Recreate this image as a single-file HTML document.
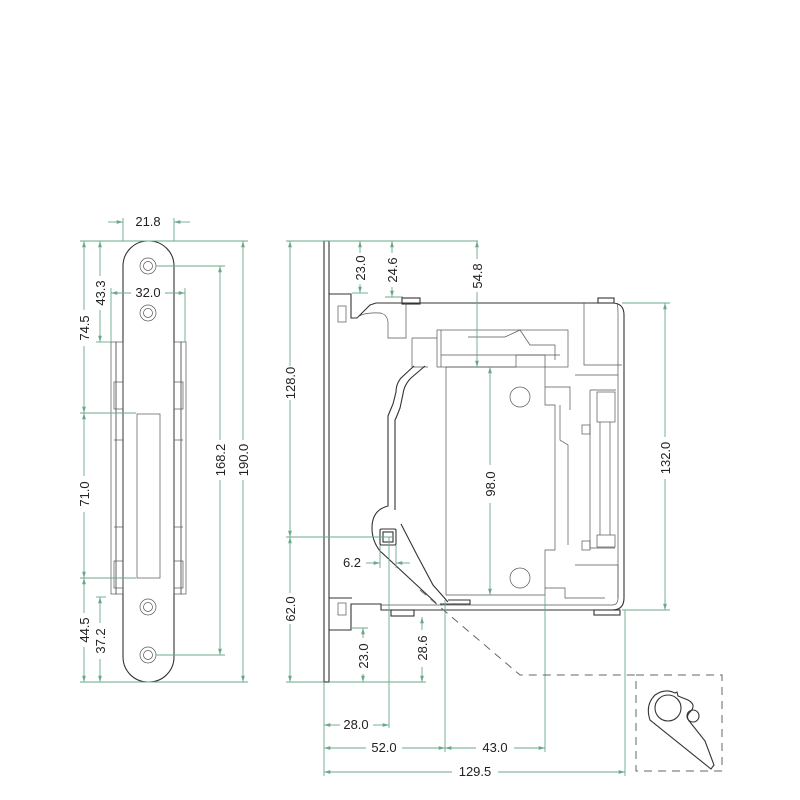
<!DOCTYPE html>
<html><head><meta charset="utf-8"><style>
html,body{margin:0;padding:0;background:#fff;}
svg{display:block;}
text{font-family:"Liberation Sans",sans-serif;font-size:13px;fill:#222;}
.g{stroke:#6aa88a;stroke-width:0.9;fill:none;}
.k{stroke:#333;stroke-width:1.1;fill:none;}
.t{stroke:#555;stroke-width:0.7;fill:none;}
.d{stroke:#666;stroke-width:1;fill:none;stroke-dasharray:8,6;}
</style></head><body>
<svg width="800" height="800" viewBox="0 0 800 800" xmlns="http://www.w3.org/2000/svg">
<defs>
<marker id="a" viewBox="0 0 10 10" refX="10" refY="5" markerWidth="7" markerHeight="7" orient="auto-start-reverse"><path d="M0,2 L10,5 L0,8 z" fill="#6aa88a"/></marker>
</defs>

<!-- LEFT PLATE -->
<rect x="123" y="241" width="51" height="441" rx="25" class="k"/>
<g class="t">
<circle cx="148" cy="266" r="8"/><circle cx="148" cy="266" r="4.5"/>
<circle cx="148" cy="313" r="8"/><circle cx="148" cy="313" r="4.5"/>
<circle cx="148" cy="607" r="8"/><circle cx="148" cy="607" r="4.5"/>
<circle cx="148" cy="655" r="8"/><circle cx="148" cy="655" r="4.5"/>
<rect x="137" y="414" width="23" height="164"/>
<rect x="111" y="342" width="5" height="252"/><rect x="116" y="342" width="7" height="252"/>
<rect x="181" y="342" width="5" height="252"/><rect x="174" y="342" width="7" height="252"/>
<rect x="114" y="382" width="9" height="27"/><rect x="174" y="382" width="9" height="27"/>
<rect x="114" y="561" width="9" height="27"/><rect x="174" y="561" width="9" height="27"/>
<line x1="114" y1="440" x2="123" y2="440"/><line x1="174" y1="440" x2="183" y2="440"/>
<line x1="114" y1="527" x2="123" y2="527"/><line x1="174" y1="527" x2="183" y2="527"/>
</g>
<!-- left dims -->
<g class="g">
<line x1="123" y1="218" x2="123" y2="241"/><line x1="174" y1="218" x2="174" y2="241"/>
<line x1="108" y1="222" x2="123" y2="222" marker-end="url(#a)"/><line x1="190" y1="222" x2="174" y2="222" marker-end="url(#a)"/>
<line x1="80" y1="241" x2="248" y2="241"/><line x1="80" y1="682" x2="248" y2="682"/>
<line x1="243" y1="241" x2="243" y2="440" marker-start="url(#a)"/><line x1="243" y1="480" x2="243" y2="682" marker-end="url(#a)"/>
<line x1="156" y1="266" x2="225" y2="266"/><line x1="156" y1="655" x2="225" y2="655"/>
<line x1="220" y1="266" x2="220" y2="440" marker-start="url(#a)"/><line x1="220" y1="480" x2="220" y2="655" marker-end="url(#a)"/>
<line x1="84" y1="241" x2="84" y2="310" marker-start="url(#a)"/><line x1="84" y1="346" x2="84" y2="413" marker-end="url(#a)"/>
<line x1="100" y1="241" x2="100" y2="276" marker-start="url(#a)"/><line x1="100" y1="310" x2="100" y2="342" marker-end="url(#a)"/>
<line x1="96" y1="342" x2="111" y2="342"/>
<line x1="80" y1="413" x2="136" y2="413"/><line x1="80" y1="578" x2="136" y2="578"/>
<line x1="84" y1="413" x2="84" y2="476" marker-start="url(#a)"/><line x1="84" y1="512" x2="84" y2="578" marker-end="url(#a)"/>
<line x1="84" y1="578" x2="84" y2="613" marker-start="url(#a)"/><line x1="84" y1="647" x2="84" y2="682" marker-end="url(#a)"/>
<line x1="96" y1="597" x2="106" y2="597"/>
<line x1="100" y1="597" x2="100" y2="623" marker-start="url(#a)"/><line x1="100" y1="659" x2="100" y2="682" marker-end="url(#a)"/>
<line x1="111" y1="288" x2="111" y2="342"/><line x1="185" y1="288" x2="185" y2="342"/>
<line x1="111" y1="293" x2="131" y2="293" marker-start="url(#a)"/><line x1="165" y1="293" x2="185" y2="293" marker-end="url(#a)"/>
</g>
<text x="148" y="226" text-anchor="middle">21.8</text>
<text x="148" y="297" text-anchor="middle">32.0</text>
<text transform="translate(248,460) rotate(-90)" text-anchor="middle">190.0</text>
<text transform="translate(225,460) rotate(-90)" text-anchor="middle">168.2</text>
<text transform="translate(89,328) rotate(-90)" text-anchor="middle">74.5</text>
<text transform="translate(105,293) rotate(-90)" text-anchor="middle">43.3</text>
<text transform="translate(89,494) rotate(-90)" text-anchor="middle">71.0</text>
<text transform="translate(89,630) rotate(-90)" text-anchor="middle">44.5</text>
<text transform="translate(105,641) rotate(-90)" text-anchor="middle">37.2</text>

<!-- MAIN BODY -->
<rect x="324" y="241" width="5" height="441" class="k" fill="#fff"/>
<g class="k">
<path d="M329,294 H351 V318 H357 L370,305 L376,303 H612 Q624,303 624,315 V598 Q624,610 612,610 H381 V604 H351 V630 H329"/>
<path d="M329,598 H352"/>
<rect x="402" y="298" width="18" height="6"/><rect x="598" y="298" width="16" height="5"/>
<rect x="391" y="610" width="23" height="6"/><rect x="594" y="610" width="26" height="5"/>
</g>
<g class="t">
<rect x="338" y="306" width="8" height="16"/><rect x="338" y="603" width="8" height="12"/>
<path d="M357,318 Q362,312 380,313 Q387,314 388,322 V338 H406 V303"/>
<path d="M617,303 Q618,305 618,315 V598 Q618,605 612,605 H381"/>
<rect x="437" y="330" width="131" height="37"/>
<path d="M441,330 V367 M441,355 H560"/>
<path d="M468,337 H505 L520,330 L530,345 H555 V360"/>
<path d="M412,338 H437 M412,338 V367 H428"/>
<path d="M584,303 V365 H622"/>
<path d="M446,367 V595 H545 V588 H565 V598 H605 M446,367 H516 V355 H545 V387 H570 V410 M545,387 V405 H555 V550 H545 V590"/>
<path d="M560,405 V440 L568,445 V545"/>
<circle cx="520" cy="397" r="10"/><circle cx="520" cy="578" r="10"/>
<rect x="597" y="392" width="18" height="30"/><rect x="597" y="535" width="18" height="12"/>
<line x1="600" y1="422" x2="600" y2="535"/><line x1="610" y1="422" x2="610" y2="535"/>
<path d="M590,390 V548 H615 M590,390 H616"/>
<rect x="582" y="425" width="8" height="9"/><rect x="582" y="541" width="8" height="9"/>
<path d="M575,375 H618 M575,565 H618 V598"/>
</g>
<!-- arm -->
<g class="k" stroke-width="1">
<path d="M414,366 L401,378 Q396,384 396,392 L393,404 Q390,411 388,416 V506 Q372,510 372,528 Q372,541 380,551 L436,603"/>
<path d="M425,366 L411,378 Q404,385 403,394 L400,408 Q397,416 395,420 V510"/>
<path d="M401,524 L417,555 L433,585 L448,602"/>
<rect x="380" y="529" width="16" height="16" rx="1.5"/><rect x="383" y="532" width="10" height="10"/>
<path d="M440,604 H470 V600 H448"/>
</g>

<!-- main dims -->
<g class="g">
<line x1="286" y1="241" x2="478" y2="241"/>
<line x1="290" y1="241" x2="290" y2="366" marker-start="url(#a)"/><line x1="290" y1="400" x2="290" y2="537" marker-end="url(#a)"/>
<line x1="286" y1="537" x2="392" y2="537"/>
<line x1="290" y1="537" x2="290" y2="593" marker-start="url(#a)"/><line x1="290" y1="624" x2="290" y2="682" marker-end="url(#a)"/>
<line x1="286" y1="682" x2="324" y2="682"/>
<line x1="360" y1="241" x2="360" y2="253" marker-start="url(#a)"/><line x1="360" y1="284" x2="360" y2="293" marker-end="url(#a)"/>
<line x1="352" y1="293" x2="368" y2="293"/>
<line x1="392" y1="241" x2="392" y2="253" marker-start="url(#a)"/><line x1="392" y1="287" x2="392" y2="297" marker-end="url(#a)"/>
<line x1="385" y1="297" x2="403" y2="297"/>
<line x1="477" y1="241" x2="477" y2="259" marker-start="url(#a)"/><line x1="477" y1="292" x2="477" y2="367" marker-end="url(#a)"/>
<line x1="490" y1="367" x2="490" y2="465" marker-start="url(#a)"/><line x1="490" y1="503" x2="490" y2="595" marker-end="url(#a)"/>
<line x1="622" y1="303" x2="670" y2="303"/><line x1="622" y1="610" x2="670" y2="610"/>
<line x1="665" y1="303" x2="665" y2="437" marker-start="url(#a)"/><line x1="665" y1="479" x2="665" y2="610" marker-end="url(#a)"/>
<line x1="366" y1="563" x2="380" y2="563" marker-end="url(#a)"/><line x1="410" y1="563" x2="396" y2="563" marker-end="url(#a)"/>
<line x1="380" y1="545" x2="380" y2="568"/><line x1="396" y1="545" x2="396" y2="568"/>
<line x1="363" y1="628" x2="363" y2="638" marker-start="url(#a)"/><line x1="363" y1="674" x2="363" y2="682" marker-end="url(#a)"/>
<line x1="351" y1="628" x2="368" y2="628"/>
<line x1="422" y1="617" x2="422" y2="630" marker-start="url(#a)"/><line x1="422" y1="667" x2="422" y2="682" marker-end="url(#a)"/>
<line x1="329" y1="682" x2="426" y2="682"/>
<line x1="389" y1="537" x2="389" y2="728"/>
<line x1="445" y1="600" x2="445" y2="752"/>
<line x1="545" y1="595" x2="545" y2="752"/>
<line x1="625" y1="610" x2="625" y2="776"/>
<line x1="324" y1="682" x2="324" y2="776"/>
<line x1="324" y1="725" x2="340" y2="725" marker-start="url(#a)"/><line x1="373" y1="725" x2="389" y2="725" marker-end="url(#a)"/>
<line x1="324" y1="748" x2="366" y2="748" marker-start="url(#a)"/><line x1="402" y1="748" x2="445" y2="748" marker-end="url(#a)"/>
<line x1="445" y1="748" x2="476" y2="748" marker-start="url(#a)"/><line x1="514" y1="748" x2="545" y2="748" marker-end="url(#a)"/>
<line x1="324" y1="772" x2="452" y2="772" marker-start="url(#a)"/><line x1="498" y1="772" x2="625" y2="772" marker-end="url(#a)"/>
</g>
<text transform="translate(365,268) rotate(-90)" text-anchor="middle">23.0</text>
<text transform="translate(397,270) rotate(-90)" text-anchor="middle">24.6</text>
<text transform="translate(482,276) rotate(-90)" text-anchor="middle">54.8</text>
<text transform="translate(295,383) rotate(-90)" text-anchor="middle">128.0</text>
<text transform="translate(295,609) rotate(-90)" text-anchor="middle">62.0</text>
<text transform="translate(495,484) rotate(-90)" text-anchor="middle">98.0</text>
<text transform="translate(670,458) rotate(-90)" text-anchor="middle">132.0</text>
<text transform="translate(368,656) rotate(-90)" text-anchor="middle">23.0</text>
<text transform="translate(427,648) rotate(-90)" text-anchor="middle">28.6</text>
<text x="352" y="567" text-anchor="middle">6.2</text>
<text x="356" y="729" text-anchor="middle">28.0</text>
<text x="384" y="752" text-anchor="middle">52.0</text>
<text x="495" y="752" text-anchor="middle">43.0</text>
<text x="475" y="776" text-anchor="middle">129.5</text>

<!-- detail -->
<path class="d" d="M420,590 L520,675 H636"/>
<rect class="d" x="636" y="675" width="86" height="96"/>
<g class="k">
<path d="M675,693 Q665,688 655,695 Q645,705 650,720 L711,769 L714,765 L705,741 L690,722 Q685,717 690,712 Q697,705 688,700 L678,696 L677,692 Z"/>
<circle cx="668" cy="708" r="13"/>
<circle cx="693" cy="716" r="6"/>
</g>
</svg>
</body></html>
